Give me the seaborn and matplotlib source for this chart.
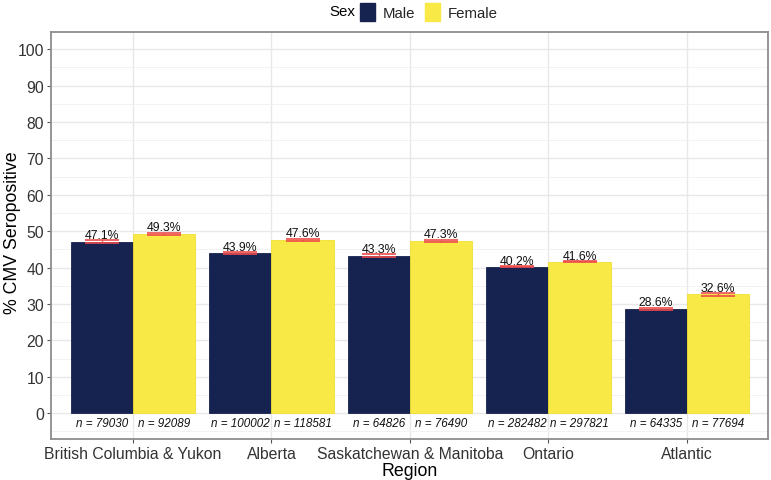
import matplotlib
matplotlib.use("Agg")
import matplotlib.pyplot as plt
import seaborn as sns
import pandas as pd
import numpy as np
from matplotlib.patches import Patch

regions = ["British Columbia & Yukon", "Alberta", "Saskatchewan & Manitoba", "Ontario", "Atlantic"]
sexes = ["Male", "Female"]
male_pct = [47.1, 43.9, 43.3, 40.2, 28.6]
female_pct = [49.3, 47.6, 47.3, 41.6, 32.6]
male_err = [0.35, 0.31, 0.38, 0.18, 0.35]
female_err = [0.32, 0.28, 0.35, 0.18, 0.33]
male_n = [79030, 100002, 64826, 282482, 64335]
female_n = [92089, 118581, 76490, 297821, 77694]
y_ticks = [0, 10, 20, 30, 40, 50, 60, 70, 80, 90, 100]

df = pd.DataFrame({
    "Region": regions * 2,
    "Sex": ["Male"] * 5 + ["Female"] * 5,
    "pct": male_pct + female_pct,
})

NAVY = "#16224F"
YELLOW = "#F8E946"

sns.set_theme(style="white")
plt.rcParams["font.family"] = ["Liberation Sans", "DejaVu Sans"]

fig = plt.figure(figsize=(7.71, 4.81), dpi=100)
ax = fig.add_axes([51 / 771, 1 - 440 / 481, (768 - 51) / 771, (440 - 33) / 481])

sns.barplot(data=df, x="Region", y="pct", hue="Sex", order=regions, hue_order=sexes,
            palette=[NAVY, YELLOW], width=0.9, gap=0, saturation=1, errorbar=None,
            linewidth=0.6, ax=ax, legend=False)
for p, col in zip(ax.patches, [NAVY] * 5 + ["#F2E030"] * 5):
    p.set_edgecolor(col)

off = 0.225
xm = np.arange(len(regions)) - off
xf = np.arange(len(regions)) + off
err_kw = dict(fmt="none", ecolor="#EE4B4B", elinewidth=1.0, capsize=12.5, capthick=1.4, alpha=0.85, zorder=4)
ax.errorbar(xm, male_pct, yerr=male_err, **err_kw)
ax.errorbar(xf, female_pct, yerr=female_err, **err_kw)

for xs, vals, errs, ns in [(xm, male_pct, male_err, male_n), (xf, female_pct, female_err, female_n)]:
    for x, v, e, n in zip(xs, vals, errs, ns):
        ax.text(x, v + e - 0.15, f"{v}%", ha="center", va="bottom", fontsize=8.8, color="#111111", zorder=5)
        ax.text(x, -2.6, f"n = {n}", ha="center", va="center", fontsize=8.4, style="italic", color="#111111")

ax.set_xlim(-0.592, 4.585)
ax.set_ylim(-7.1, 104.7)
ax.set_yticks(y_ticks)
ax.set_yticks([-5] + [t + 5 for t in y_ticks[:-1]], minor=True)
ax.set_xticks(range(len(regions)))
ax.set_xticklabels(regions)

ax.set_axisbelow(True)
ax.grid(True, which="major", color="#E8E8E8", linewidth=1.0)
ax.grid(True, which="minor", axis="y", color="#F2F2F2", linewidth=0.7)
ax.xaxis.grid(True, which="major", color="#E8E8E8", linewidth=1.0)

for s in ax.spines.values():
    s.set_visible(True)
    s.set_color("#8C8C8C")
    s.set_linewidth(1.3)

ax.tick_params(axis="both", which="major", length=3, width=0.8, color="#555555",
               labelsize=11.3, labelcolor="#333333", bottom=True, left=True, pad=2)
ax.tick_params(axis="both", which="minor", length=0)

ax.set_xlabel("Region", fontsize=12.8, color="black")
ax.set_ylabel("% CMV Seropositive", fontsize=12.8, color="black")
ax.xaxis.set_label_coords((410 - 51) / 717, (440 - 463) / 407)
ax.yaxis.set_label_coords((21 - 51) / 717, (440 - 233) / 407)

fig.text(342 / 771, 1 - 12 / 481, "Sex", ha="center", va="center", fontsize=10.8, color="black")
handles = [Patch(facecolor=NAVY, edgecolor=NAVY), Patch(facecolor=YELLOW, edgecolor=YELLOW)]
fig.legend(handles, sexes, loc="center", bbox_to_anchor=(429 / 771, 1 - 13 / 481), ncol=2,
           frameon=False, fontsize=10.8, handlelength=1.0, handleheight=1.4, handletextpad=0.55,
           columnspacing=0.6, borderpad=0, borderaxespad=0)

fig.savefig("out.png", dpi=100)
